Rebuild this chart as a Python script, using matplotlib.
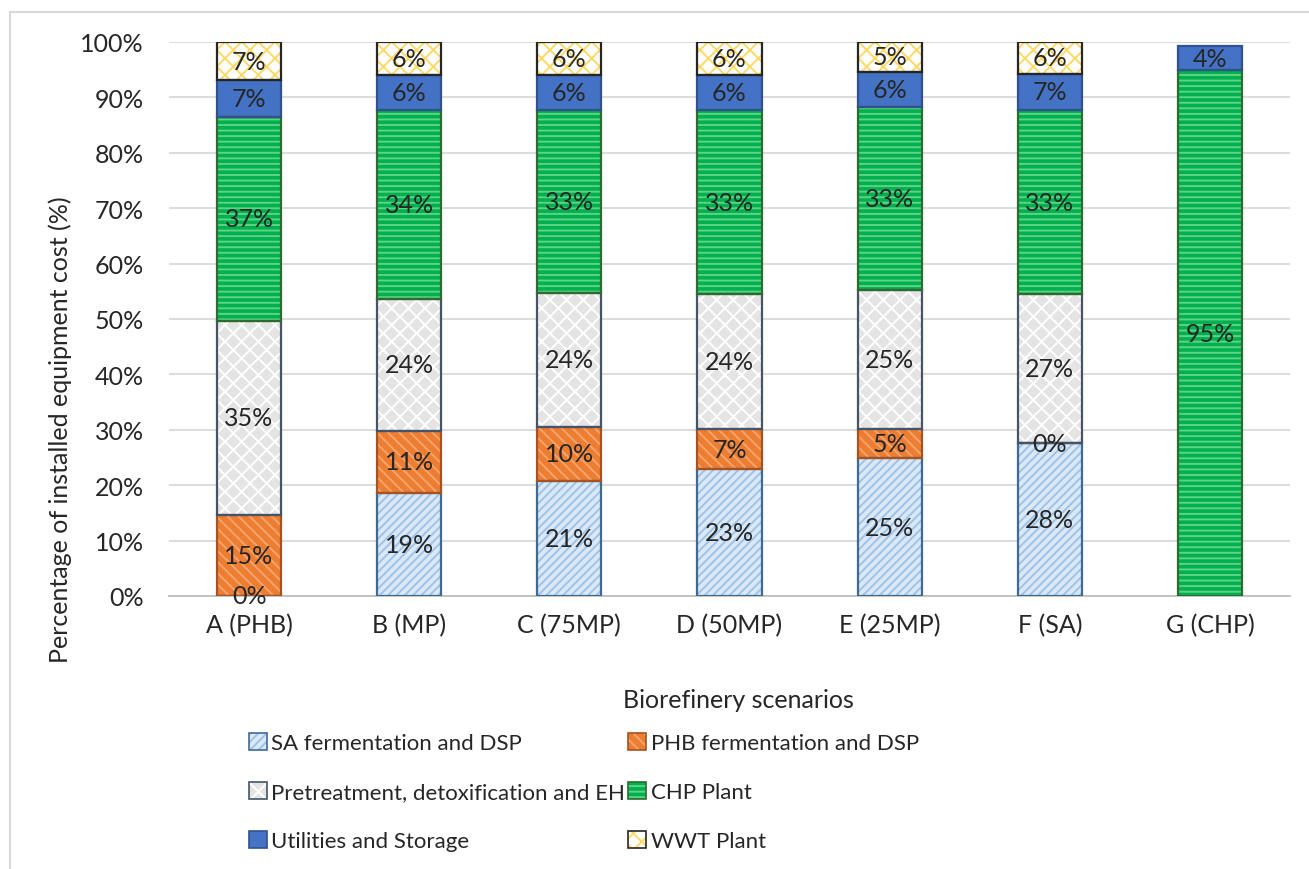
import numpy as np
import matplotlib
matplotlib.use('Agg')
import matplotlib.pyplot as plt
from matplotlib.patches import Patch, Rectangle
from matplotlib.legend_handler import HandlerTuple
from matplotlib.ticker import PercentFormatter

plt.rcParams['font.family'] = ['Lato', 'DejaVu Sans']
plt.rcParams['hatch.linewidth'] = 1.4

scenarios = ['A (PHB)', 'B (MP)', 'C (75MP)', 'D (50MP)', 'E (25MP)', 'F (SA)', 'G (CHP)']
nan = np.nan
# share of installed equipment cost, %
sa_ferm = [0, 18.6, 20.8, 22.9, 24.9, 27.6, nan]
phb_ferm = [14.6, 11.2, 9.7, 7.2, 5.2, 0, nan]
pretreat = [35.1, 23.8, 24.2, 24.4, 25.1, 26.9, nan]
chp = [36.8, 34.1, 33.0, 33.2, 33.1, 33.2, 94.9]
utilities = [6.6, 6.4, 6.4, 6.4, 6.3, 6.6, 4.4]
wwt = [6.9, 5.9, 5.9, 5.9, 5.4, 5.7, nan]

series = [
    ('SA fermentation and DSP', sa_ferm, '#dbe8f6', '#9ec3e8', '////', '#3e6a98'),
    ('PHB fermentation and DSP', phb_ferm, '#ed7d31', '#f4a46c', '\\\\\\', '#a65221'),
    ('Pretreatment, detoxification and EH', pretreat, '#e4e4e4', '#ffffff', 'xx', '#44546a'),
    ('CHP Plant', chp, '#00b050', '#5dd483', '---', '#2f6b2f'),
    ('Utilities and Storage', utilities, '#4472c4', None, None, '#2f528f'),
    ('WWT Plant', wwt, '#ffffff', '#ffd966', 'xx', '#262626'),
]

fs = 18
fig = plt.figure(figsize=(13.09, 8.70), dpi=100)
ax = fig.add_axes([169/1309, 1-597/870, (1290-169)/1309, (597-43)/870])

x = np.arange(len(scenarios))
w = 0.4
bottom = np.zeros(len(scenarios))
handles = []
for name, vals, fill, hcol, hatch, edge in series:
    v = np.array(vals, dtype=float)
    ok = ~np.isnan(v)
    h = np.nan_to_num(v)
    ax.bar(x[ok], h[ok], w, bottom=bottom[ok], color=fill, linewidth=0, zorder=2)
    if hatch:
        ax.bar(x[ok], h[ok], w, bottom=bottom[ok], facecolor='none', edgecolor=hcol,
               hatch=hatch, linewidth=0, zorder=3)
    ax.bar(x[ok], h[ok], w, bottom=bottom[ok], facecolor='none', edgecolor=edge,
           linewidth=1.6, zorder=4)
    for xi, b, hi in zip(x[ok], bottom[ok], h[ok]):
        ax.text(xi, b + hi/2, f'{hi:.0f}%', ha='center', va='center',
                fontsize=fs, color='#262626', zorder=5)
    bottom = bottom + h

    parts = [Patch(facecolor=fill, linewidth=0)]
    if hatch:
        parts.append(Patch(facecolor='none', edgecolor=hcol, hatch=hatch, linewidth=0))
    parts.append(Patch(facecolor='none', edgecolor=edge, linewidth=1.2))
    handles.append((tuple(parts), name))

ax.set_xlim(-0.5, len(scenarios) - 0.5)
ax.set_ylim(0, 100)
ax.set_yticks(np.arange(0, 101, 10))
ax.yaxis.set_major_formatter(PercentFormatter(decimals=0))
ax.set_xticks(x)
ax.set_xticklabels(scenarios)
ax.tick_params(length=0, labelsize=fs, colors='#262626', pad=12)
ax.tick_params(axis='y', pad=18)
ax.grid(axis='y', color='#d9d9d9', linewidth=1.3, zorder=0)
ax.set_axisbelow(True)
for s in ['top', 'right', 'left']:
    ax.spines[s].set_visible(False)
ax.spines['bottom'].set_color('#bfbfbf')
ax.spines['bottom'].set_linewidth(1.3)

ax.set_ylabel('Percentage of installed equipment cost (%)', fontsize=fs, color='#262626')
ax.yaxis.set_label_coords(-0.097, 0.302)
ax.set_xlabel('Biorefinery scenarios', fontsize=fs, color='#262626')
ax.xaxis.set_label_coords(0.508, -0.186)
ax.xaxis.label.set_va('center')
ax.yaxis.label.set_va('center')

# legend fills row by row: reorder for matplotlib's column-wise fill
order = [0, 2, 4, 1, 3, 5]
leg = fig.legend([handles[i][0] for i in order], [handles[i][1] for i in order],
                 handler_map={tuple: HandlerTuple(ndivide=1)},
                 ncol=2, loc='upper left', bbox_to_anchor=(249/1309, 1-734/870),
                 frameon=False, fontsize=16, handlelength=0.8, handleheight=0.8,
                 handletextpad=0.2, columnspacing=0.15, labelspacing=1.3,
                 borderpad=0, borderaxespad=0)
for t in leg.get_texts():
    t.set_color('#262626')

# chart area border
fig.patches.append(Rectangle((10/1309, -0.01), 1.02, 1 - 13/870 + 0.01, transform=fig.transFigure,
                             fill=False, edgecolor='#d9d9d9', linewidth=1.5))

fig.savefig('out.png', dpi=100)
